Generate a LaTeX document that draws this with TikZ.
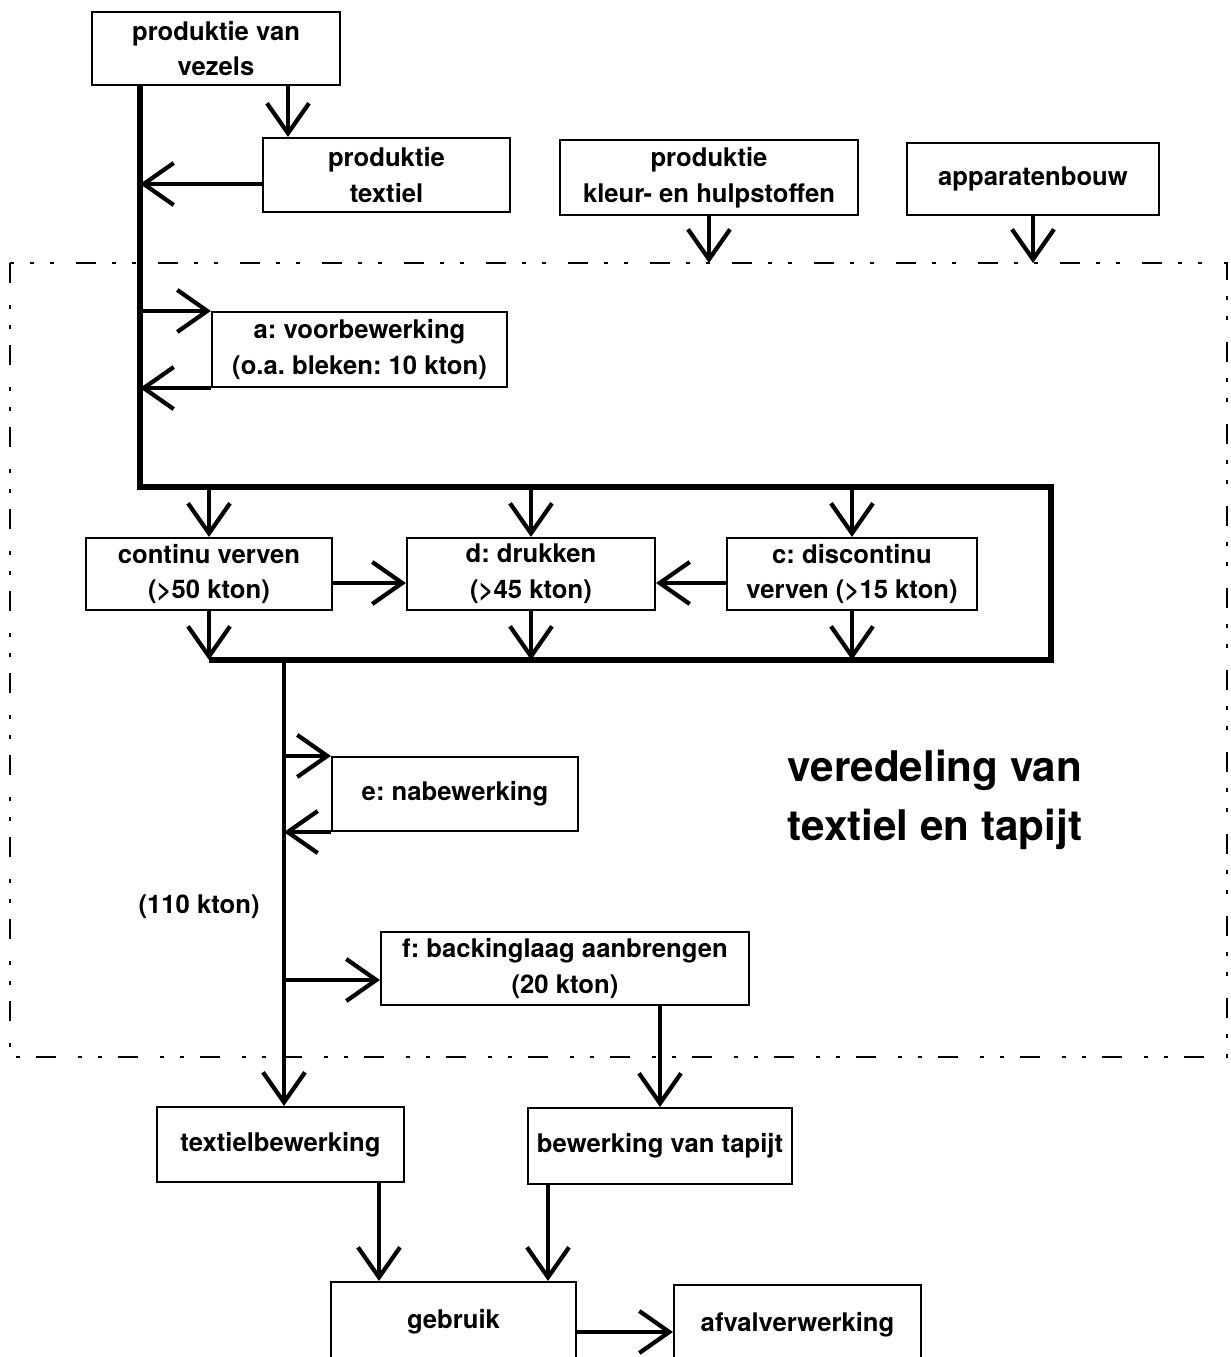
\documentclass[tikz,border=0pt]{standalone}
\usepackage{fontspec}
\setsansfont{TeX Gyre Heros}
\usepackage{tikz}
\usetikzlibrary{arrows.meta}
\frenchspacing
\newcommand\kastfont{\sffamily\bfseries\fontsize{7.3}{10.2}\selectfont}
\newcommand\titelfont{\sffamily\bfseries\fontsize{12}{17}\selectfont}
\tikzset{
  kast/.style={draw,line width=0.6pt,minimum height=0.74cm,inner sep=1pt,align=center,font=\kastfont},
  pijl/.style={line width=1.2pt,-{Straight Barb[length=3mm,width=4.2mm]}},
  romplijn/.style={line width=1.5pt},
  kader/.style={line width=0.5pt,dash pattern=on 0.2cm off 0.22cm on 0.04cm off 0.16cm on 0.04cm off 0.16cm},
}
\begin{document}
\begin{tikzpicture}[x=1cm,y=-1cm]
        \useasboundingbox (0,0) rectangle (12.31,13.57);
        \clip (0,0) rectangle (12.31,13.57);
        %kader rond de veredeling
        \coordinate (kaderboven) at (0.10,2.63);
        \coordinate (kaderonder) at (12.27,10.57);
        \draw[kader] (kaderboven) rectangle (kaderonder);
        %bovenste rij
        \node[kast,minimum width=2.48cm,minimum height=0.73cm] (vezels) at (2.16,0.485) {produktie van\\vezels};
        \node[kast,minimum width=2.47cm] (textiel) at (3.865,1.75) {produktie\\textiel};
        \node[kast,minimum width=2.98cm,minimum height=0.75cm] (kleur) at (7.09,1.775) {produktie\\kleur- en hulpstoffen};
        \node[kast,minimum width=2.52cm,minimum height=0.72cm] (apparaten) at (10.33,1.79) {apparatenbouw};
        \node[kast,minimum width=2.95cm,minimum height=0.75cm] (a) at (3.595,3.495) {a: voorbewerking\\(o.a. bleken: 10 kton)};
        %verven en drukken
        \node[kast,minimum width=2.46cm,minimum height=0.72cm] (continu) at (2.09,5.74) {continu verven\\(>50 kton)};
        \node[kast,minimum width=2.48cm,minimum height=0.72cm] (drukken) at (5.31,5.74) {d: drukken\\(>45 kton)};
        \node[kast,minimum width=2.50cm,minimum height=0.72cm] (discontinu) at (8.52,5.74) {c: discontinu\\verven (>15 kton)};
        %nabewerking
        \node[kast,minimum width=2.46cm] (e) at (4.55,7.94) {e: nabewerking};
        \node[kast,minimum width=3.68cm,minimum height=0.73cm] (f) at (5.65,9.685) {f: backinglaag aanbrengen\\(20 kton)};
        \node[anchor=east,font=\kastfont] (hoeveel) at (2.72,9.07) {(110 kton)};
        \node[align=center,font=\titelfont] (titel) at (9.35,8.00) {veredeling van\\textiel en tapijt};
        %onderste rij
        \node[kast,minimum width=2.47cm,minimum height=0.75cm] (textielbew) at (2.805,11.445) {textielbewerking};
        \node[kast,minimum width=2.64cm,minimum height=0.76cm] (tapijt) at (6.60,11.46) {bewerking van tapijt};
        \node[kast,minimum width=2.45cm,minimum height=0.80cm] (gebruik) at (4.535,13.22) {gebruik};
        \node[kast,minimum width=2.47cm,minimum height=0.80cm] (afval) at (7.975,13.25) {afvalverwerking};
        %hoofdlijn
        \coordinate (romp) at (1.40,4.87);
        \coordinate (rechts) at (10.51,4.87);
        \coordinate (rechtsonder) at (10.51,6.60);
        \coordinate (splits) at (2.84,6.60);
        \draw[romplijn] (romp |- vezels.south) -- (romp) -- (rechts) -- (rechtsonder) -- (continu.south |- rechtsonder);
        \draw[pijl] (splits) -- (splits |- textielbew.north);
        %pijlen bovenaan
        \coordinate (tx) at (2.88,0);
        \coordinate (trij) at (0,1.84);
        \draw[pijl] (tx |- vezels.south) -- (tx |- textiel.north);
        \draw[pijl] (textiel.west |- trij) -- (romp |- trij);
        \foreach \n in {kleur,apparaten}
                \draw[pijl] (\n.south) -- (\n.south |- kaderboven);
        \draw[pijl] (romp |- a.north west) -- (a.north west);
        \draw[pijl] (a.south west) -- (romp |- a.south west);
        %pijlen bij verven en drukken
        \foreach \n in {continu,drukken,discontinu}
        {
                \draw[pijl] (\n.north |- romp) -- (\n.north);
                \draw[pijl] (\n.south) -- (\n.south |- rechtsonder);
        };
        \coordinate (rij) at (0,5.83);
        \draw[pijl] (continu.east |- rij) -- (drukken.west |- rij);
        \draw[pijl] (discontinu.west |- rij) -- (drukken.east |- rij);
        %pijlen langs de tweede lijn
        \coordinate (frij) at (0,9.80);
        \draw[pijl] (splits |- e.north west) -- (e.north west);
        \draw[pijl] (e.south west) -- (splits |- e.south west);
        \draw[pijl] (splits |- frij) -- (f.west |- frij);
        \draw[pijl] (tapijt.north |- f.south) -- (tapijt.north);
        %naar gebruik en afval
        \coordinate (gx1) at (3.79,0);
        \coordinate (gx2) at (5.48,0);
        \coordinate (grij) at (0,13.32);
        \draw[pijl] (gx1 |- textielbew.south) -- (gx1 |- gebruik.north);
        \draw[pijl] (gx2 |- tapijt.south) -- (gx2 |- gebruik.north);
        \draw[pijl] (gebruik.east |- grij) -- (afval.west |- grij);
\end{tikzpicture}
\end{document}
